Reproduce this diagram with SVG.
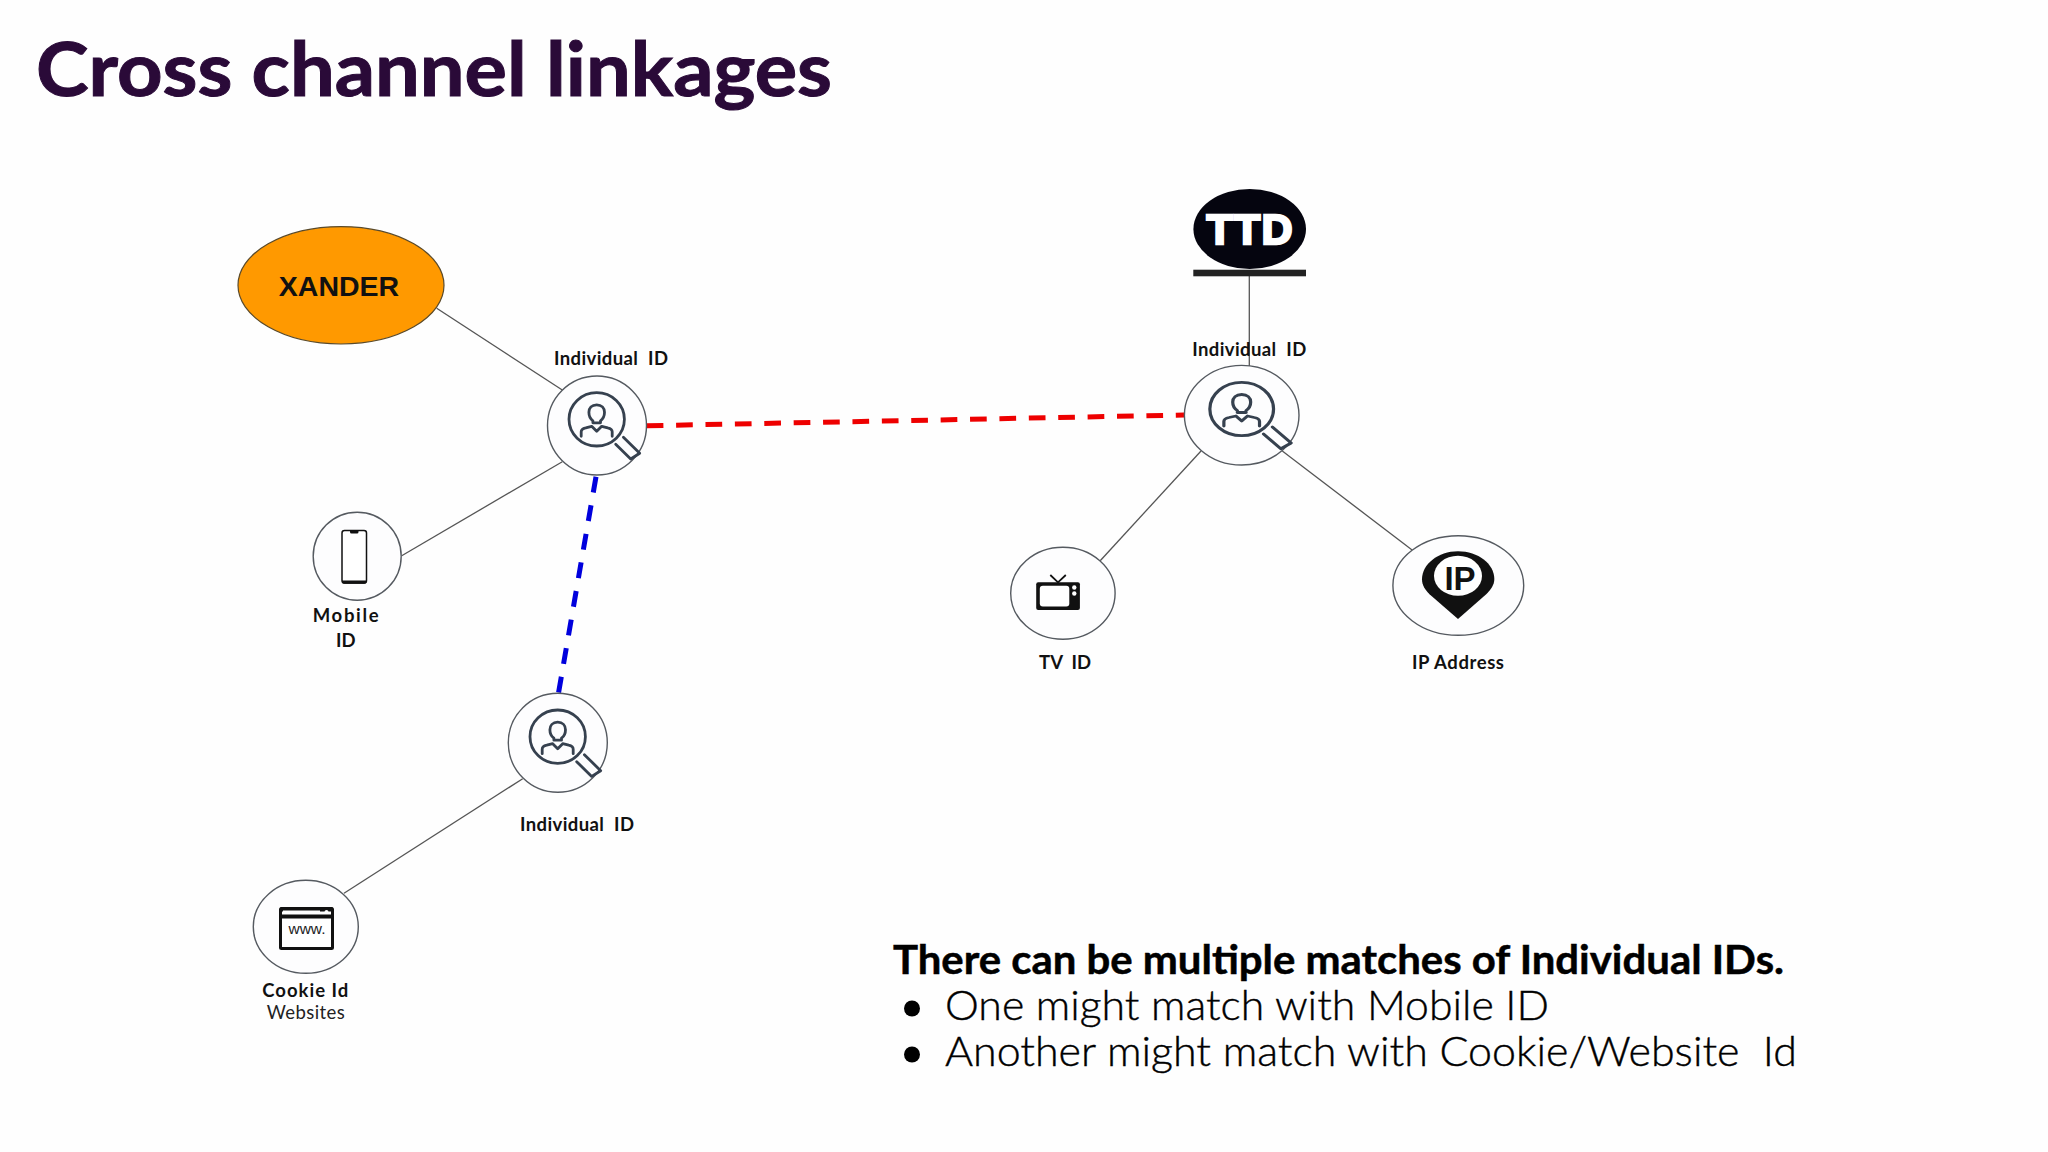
<svg xmlns="http://www.w3.org/2000/svg" width="2048" height="1152" viewBox="0 0 2048 1152">
<style>
text{white-space:pre}
.ring{fill:#fdfdfe;stroke:#555a60;stroke-width:1.4}
.link{stroke:#555;stroke-width:1.3;fill:none}
.lab{font-family:Lato,"Liberation Sans",sans-serif;font-weight:700;font-size:18.500px;fill:#111;text-anchor:middle}
.ic{fill:none;stroke:#36414f;stroke-width:2.800;stroke-linecap:round;stroke-linejoin:round}
.body{font-family:Lato,"Open Sans",sans-serif;font-size:41px;fill:#000}
</style>
<defs>
<g id="search">
<ellipse cx="0" cy="0" rx="27.7" ry="26.7" class="ic"/>
<path class="ic" d="M0-14.500c-5 0-7.800 3.400-7.800 7.500 0 4 2 7 4 8.500v2l3.800 0 3.800 0v-2c2-1.500 4-4.500 4-8.500 0-4.100-2.800-7.500-7.800-7.500z"/>
<path class="ic" d="M-15.500 17v-4.500c0-2.500 2-3.500 4.500-4l6-1.500 5 5 5-5 6 1.500c2.500.5 4.500 1.500 4.500 4v4.500"/>
<path class="ic" d="M19 25 34 39.700 43 34 26.700 18" stroke-width="3.200"/>
</g>
</defs>
<rect width="2048" height="1152" fill="#fefefe"/>
<text id="title" x="36" y="96" font-family="Lato,'Liberation Sans',sans-serif" font-weight="700" font-size="74" fill="#2a0a38" stroke="#2a0a38" stroke-width="1" textLength="796" lengthAdjust="spacingAndGlyphs">Cross channel linkages</text>
<g id="connectors">
<line class="link" x1="436.700" y1="308.300" x2="562.300" y2="390"/>
<line class="link" x1="562.300" y1="461.700" x2="401.700" y2="555.700"/>
<line class="link" x1="522.700" y1="778.700" x2="344" y2="893.300"/>
<line class="link" x1="1249.300" y1="276" x2="1249.300" y2="367" stroke-width="1.800"/>
<line class="link" x1="1201" y1="451" x2="1100.200" y2="560.700"/>
<line class="link" x1="1282.300" y1="451" x2="1412.100" y2="550"/>
<line x1="646.700" y1="425.800" x2="1184" y2="415" stroke="#ee0000" stroke-width="5" stroke-dasharray="16.700 12.700"/>
<line x1="596" y1="476.700" x2="558.500" y2="693" stroke="#0000dd" stroke-width="5" stroke-dasharray="16 13"/>
</g>
<g id="xander">
<ellipse cx="341" cy="285.300" rx="103" ry="58.700" fill="#ff9900" stroke="#5a4a2a" stroke-width="1.200"/>
<text x="339" y="296" font-family="'Liberation Sans',sans-serif" font-weight="700" font-size="28.500" fill="#111" text-anchor="middle">XANDER</text>
</g>
<g id="individual-1">
<circle class="ring" cx="597" cy="425.500" r="49.500"/>
<use href="#search" x="596.700" y="419.300"/>
<text class="lab" x="611" y="365" textLength="114">Individual  ID</text>
</g>
<g id="mobile">
<circle class="ring" cx="357.200" cy="556.200" r="44"/>
<rect x="342" y="530.500" width="24.500" height="52.500" rx="2.500" fill="#fff" stroke="#111" stroke-width="1.500"/>
<path d="M342 580.500h24.500v1.500a1.800 1.800 0 0 1-1.800 1.800h-20.900a1.800 1.800 0 0 1-1.800-1.800z" fill="#111"/>
<path d="M350 530.500h8.500v1.500a1.500 1.500 0 0 1-1.500 1.500h-5.500a1.500 1.500 0 0 1-1.500-1.500z" fill="#111"/>
<text class="lab" x="345.700" y="622" textLength="66">Mobile</text>
<text class="lab" x="345.700" y="647">ID</text>
</g>
<g id="individual-3">
<circle class="ring" cx="557.800" cy="742.800" r="49.500"/>
<use href="#search" x="557.700" y="736.700"/>
<text class="lab" x="577" y="831" textLength="114">Individual  ID</text>
</g>
<g id="cookie">
<ellipse class="ring" cx="305.800" cy="926.800" rx="52.500" ry="46.500"/>
<rect x="280.500" y="908.500" width="52" height="40" rx="1" fill="#fff" stroke="#111" stroke-width="3"/>
<rect x="280" y="914.500" width="53" height="4" fill="#111"/>
<rect x="280" y="907.500" width="53" height="4" fill="#111"/>
<rect x="283" y="910.500" width="37" height="3" fill="#fff"/>
<circle cx="326.500" cy="912" r="2" fill="#fff"/>
<text x="307" y="934" font-family="'Liberation Sans',sans-serif" font-size="14" fill="#222" text-anchor="middle" textLength="37" lengthAdjust="spacingAndGlyphs">www.</text>
<text class="lab" x="305.300" y="996.700" textLength="86">Cookie Id</text>
<text x="305.800" y="1019.300" font-family="Lato,sans-serif" font-weight="400" font-size="18.500" fill="#222" text-anchor="middle" textLength="78">Websites</text>
</g>
<g id="ttd">
<ellipse cx="1249.700" cy="229" rx="56.300" ry="40" fill="#05050f"/>
<rect x="1193.300" y="269.700" width="112.700" height="6.600" fill="#222"/>
<text x="1249.500" y="244" font-family="'Liberation Sans',sans-serif" font-weight="700" font-size="43" fill="#fff" stroke="#fff" stroke-width="2.500" text-anchor="middle" textLength="86" lengthAdjust="spacing">TTD</text>
</g>
<g id="individual-2">
<ellipse class="ring" cx="1241.700" cy="415.200" rx="57.300" ry="49.800"/>
<use href="#search" transform="translate(1241.700 409) scale(1.150 1)"/>
<text class="lab" x="1249.300" y="355.700" textLength="114">Individual  ID</text>
</g>
<g id="tv">
<ellipse class="ring" cx="1062.900" cy="593.300" rx="52.200" ry="46"/>
<path d="M1050.300 575 1058 582.300 1065.800 575" fill="none" stroke="#111" stroke-width="1.800"/>
<rect x="1036.200" y="582.300" width="43.700" height="27.700" rx="2" fill="#111"/>
<rect x="1039.800" y="585.800" width="29.500" height="20.700" rx="3" fill="#fff"/>
<circle cx="1074.300" cy="587.500" r="2.200" fill="#fff"/>
<circle cx="1074.300" cy="593.500" r="2.200" fill="#fff"/>
<text class="lab" x="1065" y="669" textLength="52">TV  ID</text>
</g>
<g id="ip">
<ellipse class="ring" cx="1458.300" cy="585.500" rx="65.400" ry="49.800"/>
<path d="M1458 551.300c-20 0-36 13-36 28 0 6 3 10 7.500 15L1458 619l28.500-25c4.500-5 7.800-9 7.800-15 0-15-16-27.700-36.300-27.700z" fill="#111"/>
<ellipse cx="1458" cy="575.800" rx="24" ry="20" fill="#fff"/>
<text x="1460" y="590.300" font-family="'Liberation Sans',sans-serif" font-weight="700" font-size="33" fill="#111" text-anchor="middle">IP</text>
<text class="lab" x="1458" y="669" textLength="92">IP Address</text>
</g>
<g id="note">
<text class="body" x="893" y="973.500" font-weight="700" stroke="#000" stroke-width=".5" textLength="891" lengthAdjust="spacingAndGlyphs">There can be multiple matches of Individual IDs.</text>
<circle cx="912" cy="1008.500" r="8" fill="#000"/>
<text class="body" x="945" y="1019.500" font-weight="300" stroke="#000" stroke-width=".4" textLength="604" lengthAdjust="spacingAndGlyphs">One might match with Mobile ID</text>
<circle cx="912" cy="1054.500" r="8" fill="#000"/>
<text class="body" x="945" y="1065.500" font-weight="300" stroke="#000" stroke-width=".4" textLength="852" lengthAdjust="spacingAndGlyphs">Another might match with Cookie/Website  Id</text>
</g>
</svg>
